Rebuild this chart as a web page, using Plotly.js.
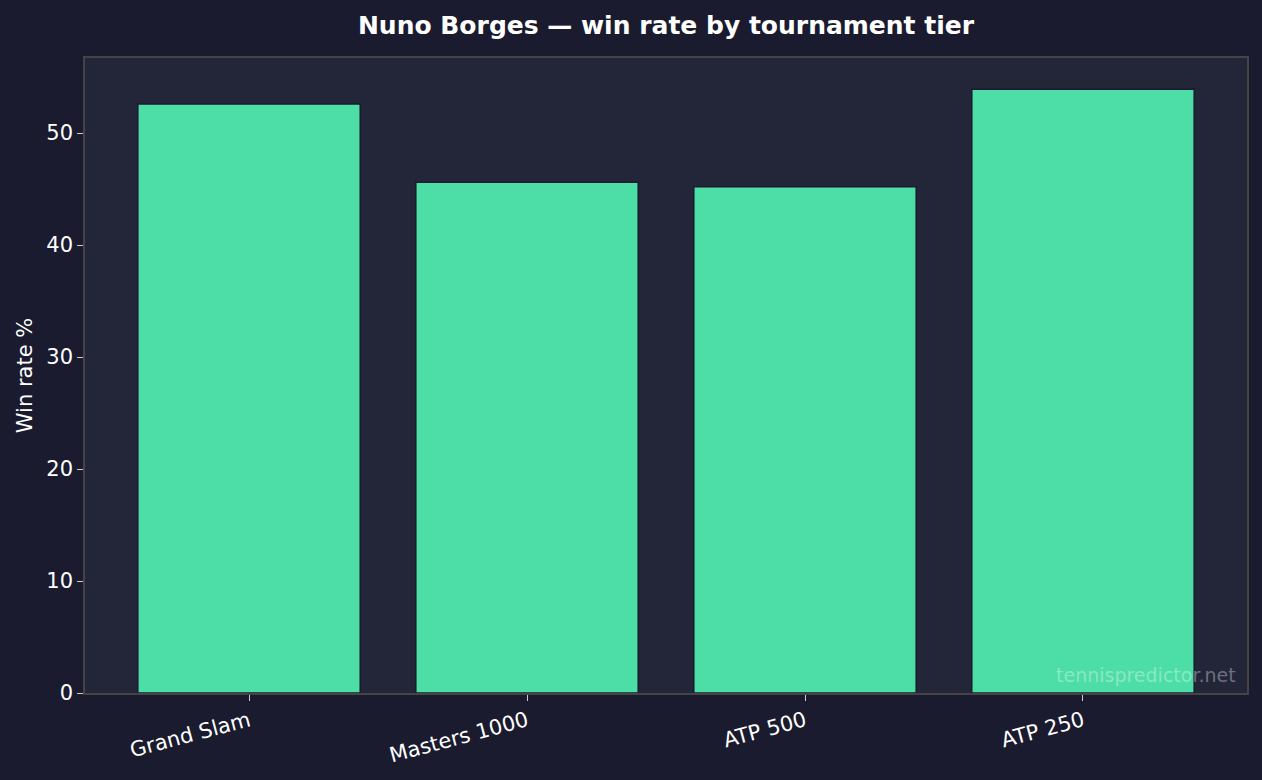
<!DOCTYPE html>
<html>
<head>
<meta charset="utf-8">
<script src="https://cdn.plot.ly/plotly-3.0.1.min.js"></script>
<style>
  html, body { margin: 0; padding: 0; background: #1a1b2e; }
  #chart { width: 1262px; height: 780px; }
</style>
</head>
<body>
<div id="chart"></div>
<script>
// tiers and win rates
const tiers = ["Grand Slam", "Masters 1000", "ATP 500", "ATP 250"];
const winRates = [52.6, 45.6, 45.2, 53.9];

const textColor = "#ffffff";

var data = [
  {
    x: tiers,
    y: winRates,
    type: "bar",
    width: 0.8,
    marker: {
      color: "#4ddda6",
      line: { color: "#1a1b2e", width: 1.5 }
    },
    hoverinfo: "x+y"
  }
];

var layout = {
  width: 1262,
  height: 780,
  paper_bgcolor: "#1a1b2e",
  plot_bgcolor: "#232539",
  margin: { l: 85, r: 15, t: 58, b: 87, pad: 0 },
  showlegend: false,
  font: { family: "DejaVu Sans", color: textColor, size: 18 },
  title: {
    text: "<b>Nuno Borges — win rate by tournament tier</b>",
    font: { family: "DejaVu Sans", size: 25, color: textColor },
    xref: "paper",
    x: 0.5,
    xanchor: "center",
    y: 0.967,
    yanchor: "middle"
  },
  xaxis: {
    type: "category",
    range: [-0.59, 3.59],
    tickangle: -15,
    tickfont: { size: 21, color: textColor },
    ticks: "outside",
    ticklen: 6,
    tickcolor: "#cccccc",
    showgrid: false,
    showline: true,
    linecolor: "#444444",
    linewidth: 1.5,
    mirror: true,
    zeroline: false
  },
  yaxis: {
    title: { text: "Win rate %", font: { size: 21, color: textColor }, standoff: 8 },
    range: [0, 56.7],
    tickvals: [0, 10, 20, 30, 40, 50],
    tickfont: { size: 21, color: textColor },
    ticks: "outside",
    ticklen: 6,
    tickcolor: "#cccccc",
    showgrid: false,
    showline: true,
    linecolor: "#444444",
    linewidth: 1.5,
    mirror: true,
    zeroline: false
  },
  annotations: [
    {
      text: "tennispredictor.net",
      xref: "paper",
      yref: "paper",
      x: 0.992,
      y: 0.008,
      xanchor: "right",
      yanchor: "bottom",
      showarrow: false,
      font: { family: "DejaVu Sans", size: 19, color: "rgba(255,255,255,0.35)" }
    }
  ]
};

Plotly.newPlot("chart", data, layout, { displayModeBar: false });
</script>
</body>
</html>
